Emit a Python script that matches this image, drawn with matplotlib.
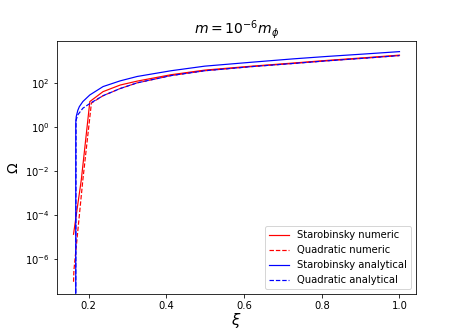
import matplotlib
matplotlib.use("Agg")
import matplotlib.pyplot as plt

# Starobinsky numeric
xi_sn = [0.161, 0.181, 0.203, 0.237, 0.281, 0.325, 0.412, 0.499, 0.621, 0.726, 0.813, 0.917, 1.0]
om_sn = [1.3e-5, 3.9e-3, 14.1, 39.8, 79.4, 120, 234, 380, 575, 794, 1047, 1413, 1820]

# Quadratic numeric
xi_qn = [0.161, 0.162, 0.185, 0.207, 0.237, 0.281, 0.325, 0.412, 0.499, 0.621, 0.726, 0.813, 0.917, 1.0]
om_qn = [9e-8, 3e-7, 3.9e-3, 12.0, 26.0, 55.0, 100, 214, 355, 550, 759, 1000, 1349, 1738]

# Starobinsky analytical
xi_sa = [0.1667, 0.1668, 0.168, 0.172, 0.176, 0.185, 0.203, 0.237, 0.281, 0.325,
         0.412, 0.499, 0.621, 0.726, 0.813, 0.917, 1.0]
om_sa = [1e-9, 1.51, 2.95, 5.6, 8.3, 14.1, 28.2, 67.6, 123, 195,
         355, 575, 871, 1230, 1585, 2089, 2630]

# Quadratic analytical
xi_qa = [0.1667, 0.1675, 0.172, 0.185, 0.203, 0.237, 0.281, 0.325, 0.412, 0.499, 0.621, 0.726, 0.813, 0.917, 1.0]
om_qa = [1e-9, 2.0, 3.5, 7.0, 11.5, 26.0, 55.0, 100, 214, 355, 550, 759, 1000, 1349, 1738]

fig = plt.figure(figsize=(462 / 72, 336 / 72), dpi=72)
ax = fig.add_subplot(111)
fig.subplots_adjust(left=0.123, right=0.9, top=0.878, bottom=0.125)

ax.plot(xi_sn, om_sn, 'r-', lw=1.2, label='Starobinsky numeric')
ax.plot(xi_qn, om_qn, 'r--', lw=1.2, label='Quadratic numeric')
ax.plot(xi_sa, om_sa, 'b-', lw=1.2, label='Starobinsky analytical')
ax.plot(xi_qa, om_qa, 'b--', lw=1.2, label='Quadratic analytical')

ax.set_yscale('log')
ax.set_xlim(0.118, 1.042)
ax.set_ylim(2.5e-8, 8e3)
ax.set_xlabel(r'$\xi$', fontsize=15, labelpad=0)
ax.set_ylabel(r'$\Omega$', fontsize=14)
ax.set_title(r'$m = 10^{-6} m_\phi$', fontsize=14)
ax.legend(loc='lower right', fontsize=10)

fig.savefig('out.png', dpi=72)
